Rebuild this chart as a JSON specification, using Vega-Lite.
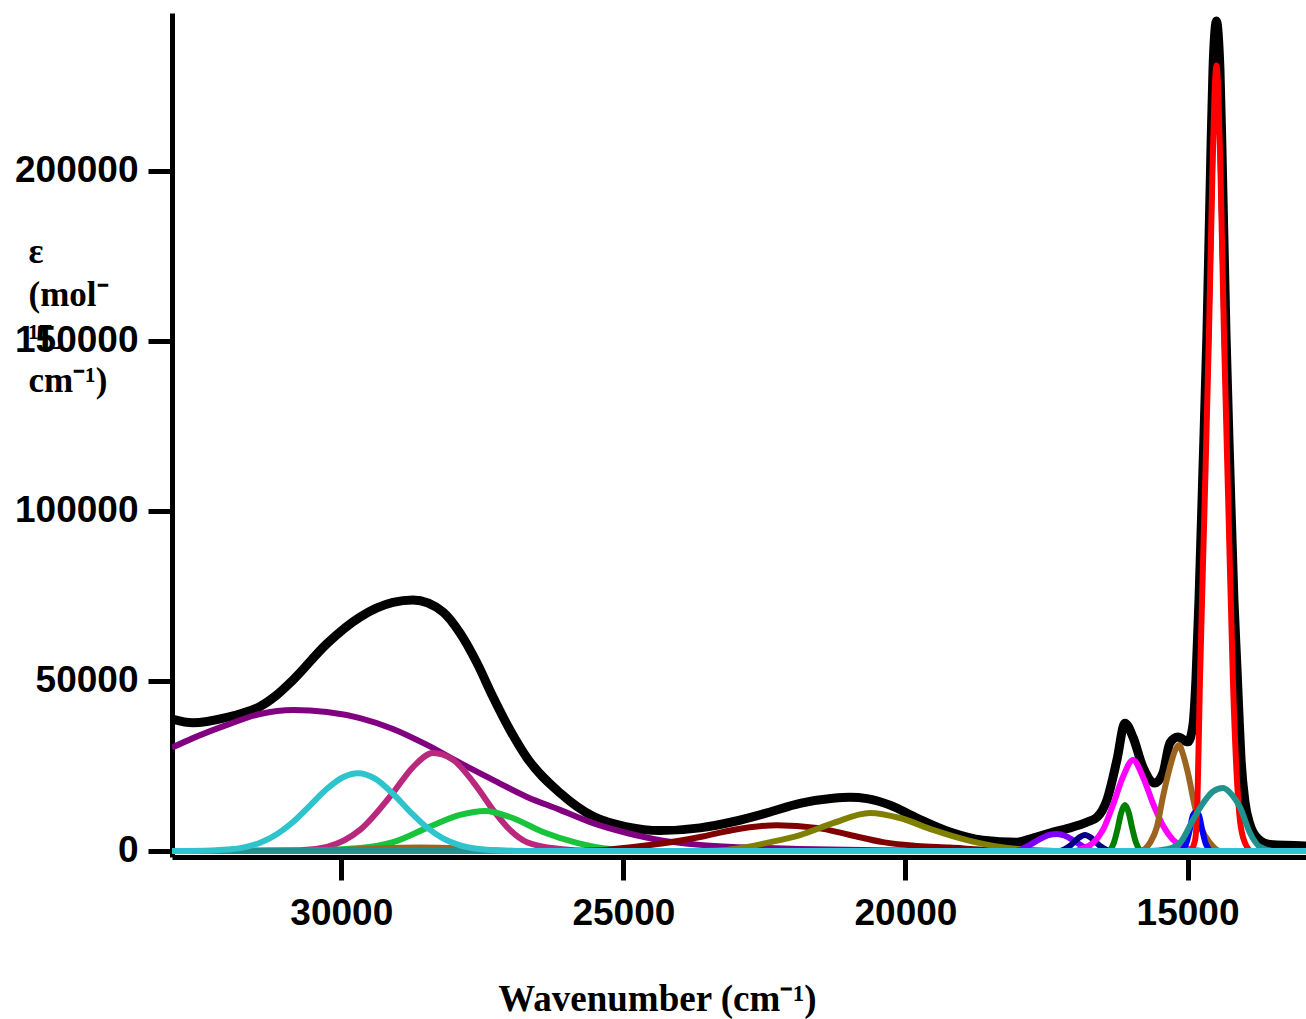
{
  "$schema": "https://vega.github.io/schema/vega-lite/v6.json",
  "width": 1134,
  "height": 844,
  "autosize": {"type": "none"},
  "padding": {"left": 172, "top": 13, "right": 0, "bottom": 162},
  "background": "white",
  "config": {"view": {"stroke": null}},
  "datasets": {
    "total": [
      {"x": 33000, "y": 38800}, {"x": 32628, "y": 37700}, {"x": 32025, "y": 39300}, {"x": 31742, "y": 40600},
      {"x": 31440, "y": 42500}, {"x": 31157, "y": 45700}, {"x": 30855, "y": 50300}, {"x": 30253, "y": 61000},
      {"x": 29668, "y": 68800}, {"x": 29083, "y": 73100}, {"x": 28728, "y": 73800}, {"x": 28197, "y": 70300},
      {"x": 27895, "y": 64100}, {"x": 27594, "y": 55300}, {"x": 27310, "y": 45300}, {"x": 27009, "y": 35600},
      {"x": 26708, "y": 27400}, {"x": 26123, "y": 17100}, {"x": 25538, "y": 10200}, {"x": 24936, "y": 7100},
      {"x": 24351, "y": 6000}, {"x": 23642, "y": 6800}, {"x": 23057, "y": 8600}, {"x": 22454, "y": 11200},
      {"x": 21869, "y": 14000}, {"x": 21284, "y": 15500}, {"x": 20983, "y": 15800}, {"x": 20682, "y": 15400},
      {"x": 20274, "y": 13500}, {"x": 19796, "y": 9700}, {"x": 19211, "y": 5600}, {"x": 18626, "y": 3200},
      {"x": 18023, "y": 2600}, {"x": 17740, "y": 3800}, {"x": 17438, "y": 5300}, {"x": 17084, "y": 6800},
      {"x": 16783, "y": 8500}, {"x": 16605, "y": 9900}, {"x": 16428, "y": 15000}, {"x": 16251, "y": 26800},
      {"x": 16109, "y": 37600}, {"x": 15967, "y": 33500}, {"x": 15790, "y": 24700}, {"x": 15577, "y": 20000},
      {"x": 15436, "y": 22900}, {"x": 15311, "y": 31800}, {"x": 15170, "y": 33500}, {"x": 14992, "y": 32100},
      {"x": 14904, "y": 37000}, {"x": 14851, "y": 50300}, {"x": 14797, "y": 73800}, {"x": 14727, "y": 112000},
      {"x": 14656, "y": 152000}, {"x": 14585, "y": 206000}, {"x": 14549, "y": 229700}, {"x": 14520, "y": 240000},
      {"x": 14487, "y": 244100}, {"x": 14455, "y": 240000}, {"x": 14425, "y": 229700}, {"x": 14389, "y": 206000},
      {"x": 14318, "y": 152000}, {"x": 14249, "y": 112000}, {"x": 14177, "y": 73800}, {"x": 14124, "y": 54000},
      {"x": 14088, "y": 40000}, {"x": 14053, "y": 27500}, {"x": 13982, "y": 14500}, {"x": 13893, "y": 7800},
      {"x": 13751, "y": 3600}, {"x": 13539, "y": 1900}, {"x": 12900, "y": 1500}
    ],
    "bands": [
      {"s": "a", "x": 33000, "y": 30400}, {"s": "a", "x": 32628, "y": 33200}, {"s": "a", "x": 32025, "y": 37100},
      {"s": "a", "x": 31440, "y": 40300}, {"s": "a", "x": 30855, "y": 41500}, {"s": "a", "x": 30253, "y": 40900},
      {"s": "a", "x": 29668, "y": 39100}, {"s": "a", "x": 29083, "y": 35900}, {"s": "a", "x": 28480, "y": 31200},
      {"s": "a", "x": 27895, "y": 25900}, {"s": "a", "x": 27310, "y": 20900}, {"s": "a", "x": 26708, "y": 15900},
      {"s": "a", "x": 26123, "y": 12100}, {"s": "a", "x": 25538, "y": 8200}, {"s": "a", "x": 24936, "y": 5300},
      {"s": "a", "x": 24351, "y": 3200}, {"s": "a", "x": 23642, "y": 1800}, {"s": "a", "x": 23057, "y": 1200},
      {"s": "a", "x": 22454, "y": 900}, {"s": "a", "x": 21869, "y": 600}, {"s": "a", "x": 20500, "y": 200},
      {"s": "a", "x": 19000, "y": 0}, {"s": "a", "x": 12900, "y": 0},

      {"s": "b", "x": 33000, "y": 0}, {"s": "b", "x": 30731, "y": 200}, {"s": "b", "x": 30253, "y": 1200},
      {"s": "b", "x": 29668, "y": 6200}, {"s": "b", "x": 29083, "y": 17100}, {"s": "b", "x": 28728, "y": 24700},
      {"s": "b", "x": 28374, "y": 28800}, {"s": "b", "x": 28020, "y": 26800}, {"s": "b", "x": 27594, "y": 18800},
      {"s": "b", "x": 27310, "y": 12100}, {"s": "b", "x": 27009, "y": 6200}, {"s": "b", "x": 26708, "y": 2600},
      {"s": "b", "x": 26123, "y": 600}, {"s": "b", "x": 25538, "y": 0}, {"s": "b", "x": 12900, "y": 0},

      {"s": "c", "x": 33000, "y": 0}, {"s": "c", "x": 30855, "y": 0}, {"s": "c", "x": 29668, "y": 900},
      {"s": "c", "x": 29083, "y": 2600}, {"s": "c", "x": 28480, "y": 6800}, {"s": "c", "x": 27895, "y": 10600},
      {"s": "c", "x": 27452, "y": 11800}, {"s": "c", "x": 27009, "y": 10000}, {"s": "c", "x": 26424, "y": 5600},
      {"s": "c", "x": 25822, "y": 2400}, {"s": "c", "x": 25237, "y": 600}, {"s": "c", "x": 24351, "y": 0},
      {"s": "c", "x": 12900, "y": 0},

      {"s": "d", "x": 33000, "y": 0}, {"s": "d", "x": 31000, "y": 0}, {"s": "d", "x": 30022, "y": 300},
      {"s": "d", "x": 29313, "y": 800}, {"s": "d", "x": 28604, "y": 1000}, {"s": "d", "x": 27895, "y": 700},
      {"s": "d", "x": 27364, "y": 200}, {"s": "d", "x": 26832, "y": 0}, {"s": "d", "x": 12900, "y": 0},

      {"s": "e", "x": 33000, "y": 0}, {"s": "e", "x": 26000, "y": 0}, {"s": "e", "x": 25414, "y": 200},
      {"s": "e", "x": 24829, "y": 1200}, {"s": "e", "x": 24227, "y": 2400}, {"s": "e", "x": 23642, "y": 4100},
      {"s": "e", "x": 23057, "y": 6200}, {"s": "e", "x": 22277, "y": 7600}, {"s": "e", "x": 21568, "y": 6800},
      {"s": "e", "x": 20983, "y": 4700}, {"s": "e", "x": 20398, "y": 2600}, {"s": "e", "x": 19796, "y": 1500},
      {"s": "e", "x": 19211, "y": 1000}, {"s": "e", "x": 18626, "y": 400}, {"s": "e", "x": 18023, "y": 100},
      {"s": "e", "x": 17000, "y": 0}, {"s": "e", "x": 12900, "y": 0},

      {"s": "f", "x": 33000, "y": 0}, {"s": "f", "x": 23642, "y": 0}, {"s": "f", "x": 23163, "y": 300},
      {"s": "f", "x": 22809, "y": 1200}, {"s": "f", "x": 22454, "y": 2400}, {"s": "f", "x": 21869, "y": 4700},
      {"s": "f", "x": 21284, "y": 8200}, {"s": "f", "x": 20629, "y": 11200}, {"s": "f", "x": 20097, "y": 9700},
      {"s": "f", "x": 19512, "y": 6200}, {"s": "f", "x": 18909, "y": 3200}, {"s": "f", "x": 18325, "y": 1200},
      {"s": "f", "x": 17740, "y": 300}, {"s": "f", "x": 17261, "y": 0}, {"s": "f", "x": 12900, "y": 0},

      {"s": "g", "x": 33000, "y": 0}, {"s": "g", "x": 18059, "y": 0}, {"s": "g", "x": 17828, "y": 1500},
      {"s": "g", "x": 17616, "y": 3500}, {"s": "g", "x": 17438, "y": 4800}, {"s": "g", "x": 17314, "y": 5000},
      {"s": "g", "x": 17172, "y": 4500}, {"s": "g", "x": 16995, "y": 2800}, {"s": "g", "x": 16818, "y": 1000},
      {"s": "g", "x": 16641, "y": 0}, {"s": "g", "x": 12900, "y": 0},

      {"s": "h", "x": 33000, "y": 0}, {"s": "h", "x": 17261, "y": 0}, {"s": "h", "x": 17084, "y": 1500},
      {"s": "h", "x": 16942, "y": 3700}, {"s": "h", "x": 16818, "y": 4700}, {"s": "h", "x": 16694, "y": 3700},
      {"s": "h", "x": 16552, "y": 1500}, {"s": "h", "x": 16375, "y": 0}, {"s": "h", "x": 12900, "y": 0},

      {"s": "i", "x": 33000, "y": 0}, {"s": "i", "x": 16995, "y": 0}, {"s": "i", "x": 16853, "y": 800},
      {"s": "i", "x": 16676, "y": 2400}, {"s": "i", "x": 16499, "y": 6200}, {"s": "i", "x": 16322, "y": 13500},
      {"s": "i", "x": 16144, "y": 21800}, {"s": "i", "x": 15967, "y": 26800}, {"s": "i", "x": 15790, "y": 21800},
      {"s": "i", "x": 15613, "y": 14000}, {"s": "i", "x": 15436, "y": 7500}, {"s": "i", "x": 15258, "y": 3300},
      {"s": "i", "x": 15081, "y": 1200}, {"s": "i", "x": 14868, "y": 200}, {"s": "i", "x": 14691, "y": 0},
      {"s": "i", "x": 12900, "y": 0},

      {"s": "j", "x": 33000, "y": 0}, {"s": "j", "x": 16410, "y": 0}, {"s": "j", "x": 16304, "y": 2500},
      {"s": "j", "x": 16233, "y": 7000}, {"s": "j", "x": 16180, "y": 11000}, {"s": "j", "x": 16109, "y": 13500},
      {"s": "j", "x": 16038, "y": 11000}, {"s": "j", "x": 15985, "y": 7000}, {"s": "j", "x": 15914, "y": 2500},
      {"s": "j", "x": 15808, "y": 0}, {"s": "j", "x": 12900, "y": 0},

      {"s": "k", "x": 33000, "y": 0}, {"s": "k", "x": 15843, "y": 0}, {"s": "k", "x": 15666, "y": 2400},
      {"s": "k", "x": 15542, "y": 7100}, {"s": "k", "x": 15436, "y": 15900}, {"s": "k", "x": 15311, "y": 24700},
      {"s": "k", "x": 15223, "y": 29500}, {"s": "k", "x": 15152, "y": 31200}, {"s": "k", "x": 15081, "y": 28500},
      {"s": "k", "x": 14992, "y": 22900}, {"s": "k", "x": 14868, "y": 12900}, {"s": "k", "x": 14744, "y": 6200},
      {"s": "k", "x": 14602, "y": 2400}, {"s": "k", "x": 14425, "y": 0}, {"s": "k", "x": 12900, "y": 0},

      {"s": "l", "x": 33000, "y": 0}, {"s": "l", "x": 15134, "y": 0}, {"s": "l", "x": 15028, "y": 2000},
      {"s": "l", "x": 14957, "y": 6500}, {"s": "l", "x": 14904, "y": 10500}, {"s": "l", "x": 14851, "y": 11500},
      {"s": "l", "x": 14797, "y": 10500}, {"s": "l", "x": 14744, "y": 6500}, {"s": "l", "x": 14673, "y": 2000},
      {"s": "l", "x": 14567, "y": 0}, {"s": "l", "x": 12900, "y": 0},

      {"s": "m", "x": 33000, "y": 0}, {"s": "m", "x": 14957, "y": 0}, {"s": "m", "x": 14868, "y": 3000},
      {"s": "m", "x": 14824, "y": 15000}, {"s": "m", "x": 14780, "y": 50000}, {"s": "m", "x": 14700, "y": 100000},
      {"s": "m", "x": 14620, "y": 152000}, {"s": "m", "x": 14558, "y": 200000}, {"s": "m", "x": 14522, "y": 222000},
      {"s": "m", "x": 14487, "y": 231000}, {"s": "m", "x": 14452, "y": 222000}, {"s": "m", "x": 14416, "y": 200000},
      {"s": "m", "x": 14354, "y": 152000}, {"s": "m", "x": 14274, "y": 100000}, {"s": "m", "x": 14195, "y": 50000},
      {"s": "m", "x": 14124, "y": 21000}, {"s": "m", "x": 14071, "y": 9100}, {"s": "m", "x": 13982, "y": 2400},
      {"s": "m", "x": 13858, "y": 0}, {"s": "m", "x": 12900, "y": 0},

      {"s": "n", "x": 33000, "y": 0}, {"s": "n", "x": 15666, "y": 0}, {"s": "n", "x": 15365, "y": 500},
      {"s": "n", "x": 15134, "y": 2400}, {"s": "n", "x": 14904, "y": 9100}, {"s": "n", "x": 14727, "y": 14000},
      {"s": "n", "x": 14549, "y": 17500}, {"s": "n", "x": 14372, "y": 18500}, {"s": "n", "x": 14212, "y": 16500},
      {"s": "n", "x": 14071, "y": 12900}, {"s": "n", "x": 13893, "y": 5300}, {"s": "n", "x": 13716, "y": 1200},
      {"s": "n", "x": 13450, "y": 0}, {"s": "n", "x": 12900, "y": 0},

      {"s": "o", "x": 33000, "y": 0}, {"s": "o", "x": 32300, "y": 150}, {"s": "o", "x": 32025, "y": 420},
      {"s": "o", "x": 31742, "y": 1000}, {"s": "o", "x": 31440, "y": 2430}, {"s": "o", "x": 31157, "y": 4800},
      {"s": "o", "x": 30855, "y": 8540}, {"s": "o", "x": 30554, "y": 13370}, {"s": "o", "x": 30253, "y": 18300},
      {"s": "o", "x": 29969, "y": 21700}, {"s": "o", "x": 29703, "y": 22900}, {"s": "o", "x": 29402, "y": 21300},
      {"s": "o", "x": 29083, "y": 16830}, {"s": "o", "x": 28782, "y": 11610}, {"s": "o", "x": 28480, "y": 6910},
      {"s": "o", "x": 28197, "y": 3720}, {"s": "o", "x": 27895, "y": 1670}, {"s": "o", "x": 27600, "y": 670},
      {"s": "o", "x": 27310, "y": 230}, {"s": "o", "x": 26800, "y": 0}, {"s": "o", "x": 12900, "y": 0}
    ]
  },
  "encoding": {
    "x": {
      "field": "x", "type": "quantitative",
      "scale": {"domain": [12900, 33000], "reverse": true, "nice": false, "zero": false},
      "axis": {
        "values": [15000, 20000, 25000, 30000], "format": "d",
        "title": "Wavenumber (cm⁻¹)",
        "titleFont": "Liberation Serif", "titleFontWeight": "bold", "titleFontSize": 37, "titleColor": "black",
        "titleAnchor": "start", "titleAlign": "center", "titleBaseline": "alphabetic",
        "titleX": 485, "titleY": 153,
        "labelFont": "Liberation Sans, Arial", "labelFontWeight": "bold", "labelFontSize": 37,
        "labelColor": "black", "labelPadding": 15, "labelFlush": false,
        "domainColor": "black", "domainWidth": 5,
        "tickColor": "black", "tickWidth": 5, "tickSize": 23,
        "grid": false
      }
    },
    "y": {
      "field": "y", "type": "quantitative",
      "scale": {"domain": [-1765, 246470], "nice": false, "zero": false},
      "axis": {
        "values": [0, 50000, 100000, 150000, 200000], "format": "d",
        "title": ["ε", "(mol⁻", "¹L", "cm⁻¹)"],
        "titleFont": "Liberation Serif", "titleFontWeight": "bold", "titleFontSize": 35, "titleColor": "black",
        "titleAngle": 0, "titleAlign": "left", "titleBaseline": "alphabetic", "titleLineHeight": 43,
        "titleX": -144, "titleY": 249,
        "labelFont": "Liberation Sans, Arial", "labelFontWeight": "bold", "labelFontSize": 37,
        "labelColor": "black", "labelPadding": 10, "labelFlush": false,
        "domainColor": "black", "domainWidth": 5,
        "tickColor": "black", "tickWidth": 5, "tickSize": 24,
        "grid": false
      }
    }
  },
  "layer": [
    {
      "data": {"name": "total"},
      "mark": {"type": "line", "color": "black", "strokeWidth": 9, "interpolate": "monotone", "clip": true}
    },
    {
      "data": {"name": "bands"},
      "mark": {"type": "line", "strokeWidth": 6, "interpolate": "monotone", "clip": true},
      "encoding": {
        "color": {
          "field": "s", "type": "nominal", "legend": null,
          "scale": {
            "domain": ["a", "b", "c", "d", "e", "f", "g", "h", "i", "j", "k", "l", "m", "n", "o"],
            "range": ["#800080", "#B8287C", "#18C43C", "#9C6421", "#800000", "#808000", "#8000FF", "#000080",
                      "#FF00FF", "#008000", "#9C6421", "#0000FF", "#FF0000", "#21938F", "#2EC4CC"]
          }
        }
      }
    }
  ]
}
